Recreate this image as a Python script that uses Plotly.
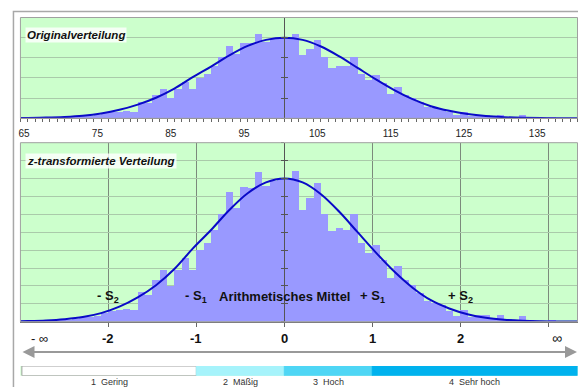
import plotly.graph_objects as go

# ---------------- data ----------------
bin_labels = list(range(65, 141))
bin_counts = [0.2, 0.2, 0.3, 0.3, 0.4, 0.5, 0.6, 0.8, 1.2, 1.3,      # 65-74
              1.6, 2.4, 3.1, 3.3, 3.5, 3.3, 8.3, 7.4, 11.7, 14.5,    # 75-84
              9.9, 14.5, 17.8, 14.5, 20.1, 22.0, 25.7, 30.2, 36.1, 31.8,  # 85-94
              37.6, 37.3, 41.7, 37.8, 39.2, 39.9, 39.5, 42.0, 31.3, 34.5,  # 95-104
              38.7, 30.2, 25.2, 26.1, 25.7, 30.2, 22.0, 19.2, 21.5, 17.3,  # 105-114
              12.2, 15.6, 11.7, 10.3, 8.0, 5.7, 5.2, 4.7, 2.9, 1.5,        # 115-124
              3.3, 1.2, 1.8, 1.8, 0.9, 1.8, 0.7, 0.5, 1.5, 0.4,            # 125-134
              0.3, 0.3, 0.5, 0.2, 0.1, 0.1]                                # 135-140

curve_x = [64.5, 65.5, 68, 70.5, 73, 75.5, 78, 80.5, 83, 85.5, 88, 90.5, 93, 95.5, 98,
           100.5, 103, 105.5, 108, 110.5, 113, 115.5, 118, 120.5, 123, 125.5, 128,
           130.5, 133, 135.5, 138, 140.5]
curve_y = [0.13, 0.17, 0.35, 0.7, 1.3, 2.4, 4.2, 6.8, 10.2, 14.7, 20.4, 25.6, 31.2, 35.9, 38.9,
           40.0, 38.9, 35.6, 30.7, 25.0, 19.3, 14.0, 9.5, 6.0, 3.7, 2.1, 1.1,
           0.55, 0.27, 0.13, 0.06, 0.03]

top_ticks = [65, 75, 85, 95, 105, 115, 125, 135]
mean_value = 100.5
sd_value = 12
z_lines = [-2, -1, 0, 1, 2, 3]
s_labels = ["- S<sub>2</sub>", "- S<sub>1</sub>", "Arithmetisches Mittel", "+ S<sub>1</sub>", "+ S<sub>2</sub>"]
z_tick_values = [-2, -1, 0, 1, 2]
z_tick_text = ["-2", "-1", "0", "1", "2"]

level_names = ["1  Gering", "2  Mäßig", "3  Hoch", "4  Sehr hoch"]
level_left = [64.7, 88.5, 100.5, 112.5]
level_right = [88.5, 100.5, 112.5, 140.5]
level_colors = ["#ffffff", "#a6f3fb", "#4fd6f5", "#00b2ee"]

# ---------------- layout helpers ----------------
W, H = 578, 387
FONT = "Arial, Liberation Sans, sans-serif"
X_RANGE = [64.5, 140.5]
XDOM = [18.5 / W, 577.5 / W]
TOP_DOM = [1 - 118.3 / H, 1 - 17.5 / H]
BOT_DOM = [1 - 321.7 / H, 1 - 142.7 / H]
BAND_DOM = [1 - 375.7 / H, 1 - 366.0 / H]

def px_y(py):
    return 1 - py / H

mean_pos = XDOM[0] + (mean_value - X_RANGE[0]) / (X_RANGE[1] - X_RANGE[0]) * (XDOM[1] - XDOM[0])

BAR_COLOR = "#9999ff"
CURVE_COLOR = "#0a0ac8"
GREEN = "#ccffcc"
GRID = "#aacaaa"

fig = go.Figure()

# top panel
fig.add_trace(go.Bar(x=bin_labels, y=bin_counts, width=1, marker=dict(color=BAR_COLOR, line=dict(width=0)),
                     xaxis="x", yaxis="y", hoverinfo="skip"))
fig.add_trace(go.Scatter(x=curve_x, y=curve_y, mode="lines", line=dict(color=CURVE_COLOR, width=2, shape="spline"),
                         xaxis="x", yaxis="y", hoverinfo="skip"))
# bottom panel
fig.add_trace(go.Bar(x=bin_labels, y=bin_counts, width=1, marker=dict(color=BAR_COLOR, line=dict(width=0)),
                     xaxis="x2", yaxis="y2", hoverinfo="skip"))
fig.add_trace(go.Scatter(x=curve_x, y=curve_y, mode="lines", line=dict(color=CURVE_COLOR, width=2, shape="spline"),
                         xaxis="x2", yaxis="y2", hoverinfo="skip"))
# level band
fig.add_trace(go.Bar(y=[0] * 4, x=[r - l for l, r in zip(level_left, level_right)], base=level_left,
                     orientation="h", width=1,
                     marker=dict(color=level_colors,
                                 line=dict(color=["#a0a0a0", level_colors[1], level_colors[2], level_colors[3]], width=1)),
                     xaxis="x3", yaxis="y3", hoverinfo="skip"))
# dummy traces for crossing tick marks on the mean axis
fig.add_trace(go.Scatter(x=[None], y=[None], xaxis="x", yaxis="y4", showlegend=False))
fig.add_trace(go.Scatter(x=[None], y=[None], xaxis="x2", yaxis="y5", showlegend=False))

z_positions = [mean_value + z * sd_value for z in z_lines]

axis_common = dict(range=X_RANGE, domain=XDOM, fixedrange=True, zeroline=False)

fig.update_layout(
    width=W, height=H,
    margin=dict(l=0, r=0, t=0, b=0),
    paper_bgcolor="white",
    plot_bgcolor=GREEN,
    showlegend=False,
    barmode="overlay",
    bargap=0,
    font=dict(family=FONT, color="#222222"),
    xaxis=dict(**axis_common, anchor="y",
               tickvals=top_ticks, ticks="", showgrid=False,
               tickfont=dict(size=10, color="#222222"), ticklabelstandoff=6,
               showline=True, linecolor="#777777", linewidth=1,
               minor=dict(ticks="outside", ticklen=3, tick0=64.5, dtick=1, tickcolor="#666666", showgrid=False)),
    yaxis=dict(range=[0, 50], domain=TOP_DOM, dtick=10, showgrid=True, gridcolor=GRID, gridwidth=1,
               zeroline=False, showticklabels=False, anchor="free", position=mean_pos,
               showline=True, linecolor="#555555", linewidth=1,
               ticks="outside", ticklen=3, tickcolor="#555555", fixedrange=True),
    yaxis4=dict(range=[0, 50], overlaying="y", dtick=10, showgrid=False, zeroline=False, showticklabels=False,
                anchor="free", position=mean_pos, ticks="inside", ticklen=3, tickcolor="#555555", fixedrange=True),
    xaxis2=dict(**axis_common, anchor="y2",
                tickvals=z_positions, ticks="outside", ticklen=4, tickcolor="#666666",
                showticklabels=False, showgrid=True, gridcolor="#7c8a7c", gridwidth=1,
                showline=True, linecolor="#777777", linewidth=1),
    yaxis2=dict(range=[0, 50], domain=BOT_DOM, dtick=5, showgrid=True, gridcolor=GRID, gridwidth=1,
                zeroline=False, showticklabels=False, anchor="free", position=mean_pos,
                showline=True, linecolor="#555555", linewidth=1,
                ticks="outside", ticklen=3, tickcolor="#555555", fixedrange=True),
    yaxis5=dict(range=[0, 50], overlaying="y2", dtick=5, showgrid=False, zeroline=False, showticklabels=False,
                anchor="free", position=mean_pos, ticks="inside", ticklen=3, tickcolor="#555555", fixedrange=True),
    xaxis3=dict(**axis_common, anchor="y3", visible=False, showgrid=False),
    yaxis3=dict(range=[-0.5, 0.5], domain=BAND_DOM, visible=False, showgrid=False, fixedrange=True),
)

shapes = []
# plot area borders
for xr, yr in (("x domain", "y domain"), ("x2 domain", "y2 domain")):
    shapes.append(dict(type="rect", xref=xr, yref=yr, x0=0, x1=1, y0=0, y1=1,
                       line=dict(color="#a0a0a0", width=1), layer="above"))
# outer frame
shapes.append(dict(type="rect", xref="paper", yref="paper", x0=11.5 / W, x1=1.05, y0=-0.05, y1=1 - 11.5 / H,
                   line=dict(color="#a8a8a8", width=1.5), layer="below"))
fig.update_layout(shapes=shapes)

annotations = []
title_font = dict(family=FONT, size=11.5, color="#111111")
annotations.append(dict(xref="paper", yref="paper", x=23 / W, y=px_y(35), xanchor="left", yanchor="middle",
                        text="<b><i>Originalverteilung</i></b>", showarrow=False, font=title_font,
                        bgcolor="rgba(255,255,255,0.8)", borderpad=1))
annotations.append(dict(xref="paper", yref="paper", x=23 / W, y=px_y(161), xanchor="left", yanchor="middle",
                        text="<b><i>z-transformierte Verteilung</i></b>", showarrow=False, font=title_font,
                        bgcolor="rgba(255,255,255,0.8)", borderpad=1))
# S labels inside the bottom panel
for z, t in zip([-2, -1, 0, 1, 2], s_labels):
    annotations.append(dict(xref="x2", yref="paper", x=mean_value + z * sd_value, y=px_y(296),
                            text=f"<b>{t}</b>", showarrow=False, xanchor="center", yanchor="middle",
                            font=dict(family=FONT, size=13, color="#111111")))
# z scale labels
for z, t in zip(z_tick_values, z_tick_text):
    annotations.append(dict(xref="x2", yref="paper", x=mean_value + z * sd_value, y=px_y(338),
                            text=f"<b>{t}</b>", showarrow=False, xanchor="center", yanchor="middle",
                            font=dict(family=FONT, size=13, color="#111111")))
annotations.append(dict(xref="x2", yref="paper", x=67.15, y=px_y(338), text="- ∞", showarrow=False,
                        xanchor="center", yanchor="middle", font=dict(family=FONT, size=13, color="#111111")))
annotations.append(dict(xref="x2", yref="paper", x=137.7, y=px_y(338), text="∞", showarrow=False,
                        xanchor="center", yanchor="middle", font=dict(family=FONT, size=14, color="#111111")))
# double arrow
annotations.append(dict(xref="paper", yref="paper", x=577 / W, y=px_y(352), ax=-556, ay=0,
                        axref="pixel", ayref="pixel", text="", showarrow=True,
                        arrowhead=2, arrowside="end+start", arrowsize=1.2, arrowwidth=2, arrowcolor="#999999"))
# level names
for name, l, r in zip(level_names, level_left, level_right):
    annotations.append(dict(xref="x3", yref="paper", x=(l + r) / 2, y=px_y(381.5), text=name, showarrow=False,
                            xanchor="center", yanchor="middle", font=dict(family=FONT, size=9, color="#333333")))
fig.update_layout(annotations=annotations)

fig.write_html("out.html",
               config={"displayModeBar": False, "staticPlot": True},
               post_script="document.body.style.margin='0';document.body.style.padding='0';"
                           "document.body.style.overflow='hidden';"
                           "document.documentElement.style.overflow='hidden';")
